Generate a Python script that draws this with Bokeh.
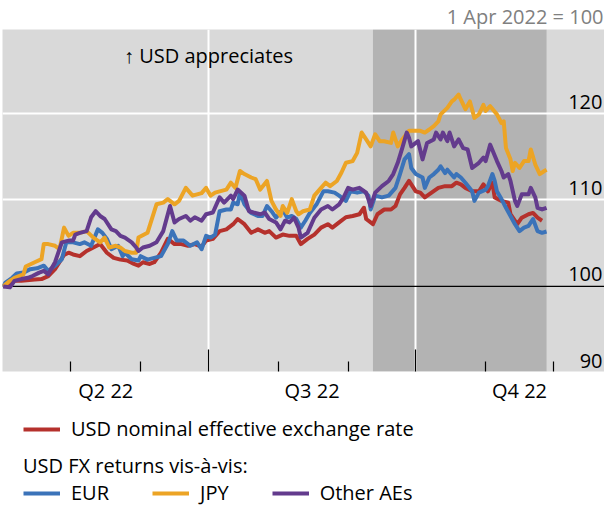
import pandas as pd
from bokeh.plotting import figure
from bokeh.layouts import column
from bokeh.core.properties import value
from bokeh.models import (Range1d, FixedTicker, LinearAxis, Legend, LegendItem,
                          BoxAnnotation, Span, Label, LabelSet, ColumnDataSource)
from bokeh.embed import file_html
from bokeh.resources import INLINE

BASE_DATE = "2022-04-01"   # index base: 1 Apr 2022 = 100; x values are days since this date

# USD nominal effective exchange rate
red_days = [0, 5, 8, 14, 17, 20, 23, 27, 29, 31, 34, 37, 40, 43, 46, 49, 52, 55, 58, 60,
            62, 65, 67, 70, 73, 76, 79, 82, 85, 88, 90, 93, 96, 99, 102, 104, 107, 110, 113, 116,
            118, 121, 124, 127, 130, 132, 135, 138, 141, 144, 146, 149, 152, 155, 158, 160, 161, 164, 166, 169,
            172, 174, 176, 178, 180, 183, 185, 187, 190, 193, 196, 199, 201, 203, 205, 208, 211, 213, 215, 217,
            218, 221, 224, 225, 228, 230, 233, 235, 237, 239]
red_vals = [100, 100.65, 100.65, 100.8, 100.85, 101.2, 102.0, 103.65, 103.9, 103.7, 103.5, 104.1, 104.5, 104.9, 103.9, 103.3, 103.1, 103.0, 102.6, 102.4,
            102.8, 102.6, 102.8, 103.9, 105.5, 104.9, 104.9, 104.7, 104.9, 104.6, 105.3, 105.5, 106.4, 106.6, 107.2, 107.8, 107.2, 106.2, 106.6, 106.2,
            106.4, 105.65, 106.0, 105.85, 105.85, 104.9, 105.5, 106.0, 106.8, 107.2, 106.8, 107.4, 108.0, 108.15, 108.35, 109.1, 107.8, 107.2, 108.35, 108.9,
            108.9, 109.3, 110.65, 111.4, 112.2, 111.0, 110.85, 110.3, 110.85, 111.4, 111.6, 111.6, 112.0, 111.8, 111.4, 111.0, 111.0, 111.8, 111.0, 112.0,
            110.3, 109.9, 109.7, 108.35, 107.2, 107.95, 108.35, 108.5, 107.95, 107.6]

# USD vis-a-vis EUR
eur_days = [0, 1, 4, 6, 9, 12, 15, 18, 20, 23, 26, 28, 31, 34, 36, 39, 42, 44, 46, 48,
            51, 53, 54, 57, 60, 61, 64, 67, 70, 73, 75, 77, 80, 83, 86, 88, 90, 92, 94, 96,
            99, 101, 102, 104, 105, 107, 110, 113, 115, 117, 119, 121, 124, 126, 128, 130, 132, 134, 136, 139,
            142, 144, 147, 149, 152, 154, 157, 160, 162, 163, 165, 168, 171, 174, 176, 178, 180, 181, 183, 186,
            187, 189, 191, 193, 194, 196, 197, 200, 201, 203, 205, 208, 209, 211, 214, 215, 217, 218, 219, 221,
            223, 225, 227, 229, 231, 233, 235, 237, 239, 241]
eur_vals = [100, 100.45, 101.0, 101.5, 101.6, 102.0, 102.1, 102.4, 101.8, 102.4, 103.15, 105.1, 105.1, 104.9, 105.1, 104.7, 106.6, 106.2, 105.5, 104.3,
            104.7, 103.5, 103.9, 103.15, 103.0, 103.5, 103.1, 103.3, 103.5, 104.9, 106.4, 105.3, 105.3, 104.7, 105.1, 104.3, 105.85, 105.65, 106.0, 108.7,
            108.9, 108.9, 109.7, 109.5, 110.85, 109.5, 108.5, 108.15, 108.15, 109.3, 108.7, 107.95, 108.9, 107.95, 108.15, 107.8, 106.8, 107.6, 108.5, 109.5,
            111.0, 111.0, 110.85, 110.5, 109.9, 111.0, 110.85, 111.0, 110.5, 108.9, 110.5, 110.3, 110.5, 111.4, 113.0, 114.7, 115.3, 113.7, 113.0, 112.6,
            111.4, 112.6, 113.0, 113.5, 113.9, 113.1, 113.5, 112.6, 113.0, 112.6, 112.0, 111.0, 109.9, 110.85, 111.2, 111.6, 113.0, 112.2, 111.0, 110.1,
            109.1, 108.15, 107.2, 106.4, 106.8, 107.0, 107.8, 106.4, 106.2, 106.35]

# USD vis-a-vis JPY
jpy_days = [0, 3, 5, 9, 10, 14, 17, 18, 20, 23, 25, 27, 29, 31, 34, 37, 40, 43, 45, 47,
            50, 52, 54, 57, 59, 60, 64, 68, 71, 73, 76, 78, 81, 84, 88, 90, 92, 94, 96, 99,
            101, 103, 105, 107, 110, 112, 114, 117, 119, 121, 123, 124, 126, 128, 130, 131, 133, 136, 138, 141,
            143, 145, 148, 150, 152, 155, 157, 159, 161, 163, 165, 167, 169, 172, 173, 175, 177, 180, 183, 185,
            187, 189, 191, 193, 194, 197, 199, 200, 202, 203, 205, 207, 209, 211, 213, 214, 216, 219, 221, 222,
            223, 225, 226, 227, 229, 231, 233, 234, 236, 238, 240, 241]
jpy_vals = [100, 100.65, 101.0, 101.4, 102.3, 102.8, 103.15, 104.9, 104.9, 104.7, 104.3, 106.8, 105.85, 106.2, 106.2, 106.4, 105.65, 105.1, 105.65, 104.5,
            104.7, 104.5, 104.1, 103.9, 103.9, 105.65, 106.2, 109.5, 109.7, 110.1, 109.5, 109.9, 111.4, 110.5, 110.8, 111.4, 110.5, 110.85, 111.0, 111.2,
            112.0, 111.4, 113.35, 113.0, 112.6, 112.4, 111.2, 112.2, 109.9, 108.9, 108.15, 109.3, 108.5, 110.1, 108.7, 108.35, 108.7, 108.9, 110.5, 111.4,
            112.0, 111.6, 112.2, 113.15, 114.3, 114.5, 115.45, 117.8, 117.0, 116.2, 117.6, 116.8, 116.8, 116.6, 117.8, 116.2, 117.0, 118.0, 118.0, 118.0,
            117.8, 118.15, 118.55, 119.1, 119.9, 120.65, 121.4, 121.6, 122.2, 121.6, 120.5, 121.4, 119.5, 119.9, 121.0, 120.3, 120.85, 119.9, 118.9, 119.1,
            116.0, 114.7, 113.35, 114.3, 113.7, 114.5, 114.5, 115.85, 114.1, 113.0, 113.35, 113.5]

# USD vis-a-vis other advanced economies
oae_days = [0, 3, 5, 8, 11, 13, 16, 18, 20, 23, 26, 29, 31, 32, 34, 37, 39, 41, 43, 45,
            48, 50, 52, 54, 57, 59, 60, 62, 65, 68, 71, 74, 76, 78, 81, 83, 85, 88, 90, 93,
            96, 98, 101, 102, 104, 107, 109, 111, 114, 116, 118, 121, 123, 125, 127, 129, 131, 132, 135, 138,
            141, 144, 146, 149, 151, 153, 155, 158, 161, 163, 165, 168, 171, 173, 175, 177, 179, 180, 181, 184,
            186, 188, 191, 192, 194, 195, 197, 198, 200, 202, 204, 206, 208, 211, 213, 214, 216, 219, 221, 222,
            224, 225, 227, 228, 230, 233, 234, 236, 237, 239, 241]
oae_vals = [100, 99.9, 100.65, 100.85, 101.0, 101.2, 101.6, 101.8, 101.4, 102.8, 105.1, 105.3, 105.3, 106.0, 106.2, 106.4, 108.0, 108.7, 108.15, 107.8,
            106.6, 106.4, 105.85, 105.65, 105.1, 104.5, 104.1, 104.5, 104.7, 105.1, 106.4, 109.3, 107.4, 107.8, 108.15, 107.6, 108.0, 107.6, 108.35, 108.55,
            110.3, 109.7, 110.5, 110.1, 111.2, 110.5, 108.7, 108.55, 108.35, 108.55, 107.8, 107.4, 106.6, 107.6, 107.4, 107.95, 106.8, 105.65, 106.2, 107.95,
            108.9, 109.3, 108.9, 109.5, 110.3, 111.4, 111.2, 111.4, 110.85, 109.3, 110.85, 111.6, 112.2, 113.0, 114.3, 116.0, 117.8, 117.2, 116.2, 116.8,
            114.7, 116.6, 117.0, 117.8, 117.0, 117.8, 116.8, 117.8, 116.2, 117.0, 116.0, 115.85, 113.7, 114.3, 114.9, 114.5, 116.4, 114.5, 113.35, 112.6,
            113.0, 112.2, 109.9, 109.3, 110.65, 110.65, 111.4, 110.3, 109.1, 108.9, 109.1]

quarter_starts = ["2022-04-01", "2022-07-01", "2022-10-01", "2023-01-01"]
quarter_labels = ["Q2 22", "Q3 22", "Q4 22"]
month_starts = ["2022-05-01", "2022-06-01", "2022-08-01", "2022-09-01", "2022-11-01", "2022-12-01"]
shade_start, shade_end = "2022-09-12", "2022-11-28"
y_ticks = [90, 100, 110, 120]
y_tick_labels = ["90", "100", "110", "120"]

series_names = ["USD nominal effective exchange rate", "EUR", "JPY", "Other AEs"]
series_colors = ["#b5312c", "#3b73b9", "#eca425", "#633b8d"]
legend_title = "USD FX returns vis-à-vis:"
index_note = "1 Apr 2022 = 100"
arrow_note = "↑ USD appreciates"

base = pd.Timestamp(BASE_DATE)


def day(s):
    return float((pd.Timestamp(s) - base).days)


q_start_days = [day(s) for s in quarter_starts]
q_mid_days = [(a + b) / 2 for a, b in zip(q_start_days[:-1], q_start_days[1:])]
month_days = [day(s) for s in month_starts]

x_start, x_end = -0.3, 266.7
y_start, y_end = 90.16, 129.72

FONT = "Open Sans"
FS = "20px"
LW = 4

p = figure(width=604, height=408, x_range=Range1d(x_start, x_end), y_range=Range1d(y_start, y_end),
           output_backend="svg", toolbar_location=None, y_axis_location=None,
           min_border=0, min_border_top=28, min_border_bottom=37, min_border_left=2, min_border_right=0,
           background_fill_color="#d9d9d9", border_fill_color="white", outline_line_color=None)

p.title.text = index_note
p.title.align = "right"
p.title.text_color = "#808080"
p.title.text_font = FONT
p.title.text_font_size = FS
p.title.text_font_style = "normal"
p.title.standoff = 0
p.title.offset = 1

# shaded period
p.add_layout(BoxAnnotation(left=day(shade_start), right=day(shade_end), fill_color="#b3b3b3", fill_alpha=1.0,
                           line_color=None, level="image"))

# grids
p.xgrid[0].ticker = FixedTicker(ticks=q_start_days[1:3])
p.xgrid[0].grid_line_color = "white"
p.xgrid[0].grid_line_width = 2
p.ygrid[0].ticker = FixedTicker(ticks=[t for t in y_ticks if t > 100])
p.ygrid[0].grid_line_color = "white"
p.ygrid[0].grid_line_width = 2

p.add_layout(Span(location=100, dimension="width", line_color="black", line_width=1.3, level="underlay"))

# tick-only axis
ax = p.xaxis[0]
ax.ticker = FixedTicker(ticks=q_start_days[1:3], minor_ticks=month_days)
ax.axis_line_color = None
ax.major_tick_in = 22
ax.major_tick_out = 0
ax.minor_tick_in = 10
ax.minor_tick_out = 0
ax.major_tick_line_color = "black"
ax.minor_tick_line_color = "black"
ax.major_tick_line_width = 1.2
ax.minor_tick_line_width = 1.2
ax.major_label_overrides = {k: "" for k in q_start_days[1:3]}
ax.major_label_standoff = 0

# quarter label axis
lab_ax = LinearAxis(ticker=FixedTicker(ticks=q_mid_days),
                    major_label_overrides={k: v for k, v in zip(q_mid_days, quarter_labels)})
lab_ax.axis_line_color = None
lab_ax.major_tick_in = 0
lab_ax.major_tick_out = 0
lab_ax.minor_tick_in = 0
lab_ax.minor_tick_out = 0
lab_ax.major_tick_line_color = None
lab_ax.minor_tick_line_color = None
lab_ax.major_label_standoff = 5
lab_ax.major_label_text_font = FONT
lab_ax.major_label_text_font_size = FS
lab_ax.major_label_text_color = "black"
p.add_layout(lab_ax, "below")

# series
all_days = [red_days, eur_days, jpy_days, oae_days]
all_vals = [red_vals, eur_vals, jpy_vals, oae_vals]
for d, v, c in zip(all_days, all_vals, series_colors):
    p.line(d, v, line_color=c, line_width=LW, line_join="round")

# right-side value labels
ysrc = ColumnDataSource(dict(x=[x_end] * len(y_ticks), y=y_ticks, t=y_tick_labels))
p.add_layout(LabelSet(x="x", y="y", text="t", source=ysrc, text_align="right", text_baseline="alphabetic",
                      x_offset=-2, y_offset=5, text_font=value(FONT), text_font_size=value(FS),
                      text_color="black"))

p.add_layout(Label(x=53.6, y=126.7, text=arrow_note, text_font=FONT, text_font_size=FS,
                   text_baseline="middle", text_align="left", text_color="black"))

# legend strip under the chart (legend proxies hold no visible data)
q = figure(width=604, height=97, x_range=Range1d(0, 1), y_range=Range1d(0, 1),
           output_backend="svg", toolbar_location=None, x_axis_location=None, y_axis_location=None,
           min_border=0, background_fill_color="white", border_fill_color="white", outline_line_color=None)
q.grid.visible = False
nan = float("nan")
proxies = [q.line(x=[nan], y=[nan], line_color=c, line_width=LW) for c in series_colors]

common = dict(orientation="horizontal", padding=0, margin=0, border_line_color=None, background_fill_alpha=0,
              glyph_width=37, glyph_height=20, label_standoff=11, spacing=43,
              label_text_font=FONT, label_text_font_size=FS, label_text_color="black")

legA = Legend(items=[LegendItem(label=series_names[0], renderers=[proxies[0]])],
              location=(21, 63), **common)
legB = Legend(items=[LegendItem(label=n, renderers=[r]) for n, r in zip(series_names[1:], proxies[1:])],
              title=legend_title, title_text_font=FONT, title_text_font_size=FS, title_text_font_style="normal",
              title_text_color="black", title_standoff=-3, title_text_line_height=0.85,
              location=(21, -1), **common)
q.add_layout(legA)
q.add_layout(legB)

layout = column(p, q, spacing=0)
open("out.html", "w").write(file_html(layout, INLINE))
